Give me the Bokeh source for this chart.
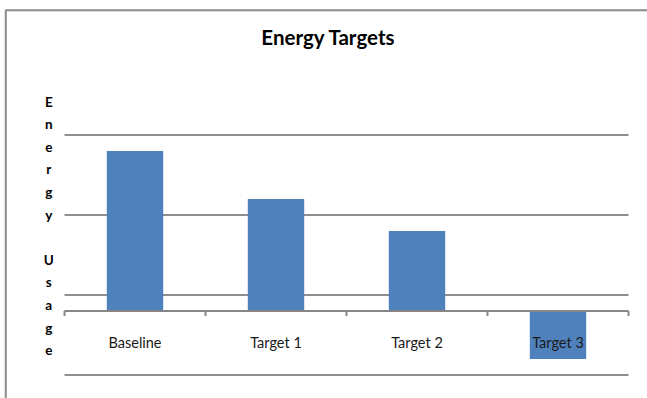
from bokeh.plotting import figure
from bokeh.models import Range1d
from bokeh.core.properties import value
from bokeh.embed import file_html
from bokeh.resources import INLINE

# ---- data ----
categories = ["Baseline", "Target 1", "Target 2", "Target 3"]
energy = [2.0, 1.4, 1.0, -0.6]
grid_values = [-0.8, 0.2, 1.2, 2.2]
chart_title = "Energy Targets"
y_title = "Energy Usage"

# ---- layout (pixels) ----
W, H = 647, 398
PLOT_L, PLOT_R = 64, 628
ZERO_PY = 310.5
PX_PER_UNIT = 80.0
n = len(categories)
PX_PER_CAT = (PLOT_R - PLOT_L) / n

FONT = "Lato"
BAR_COLOR = "#4F81BD"
GRID_COLOR = "#8f8f8f"
AXIS_COLOR = "#868686"


def X(px):
    return (px - PLOT_L) / PX_PER_CAT


def Y(py):
    return (ZERO_PY - py) / PX_PER_UNIT


p = figure(width=W, height=H, x_range=Range1d(X(0), X(W)), y_range=Range1d(Y(H), Y(0)),
           output_backend="svg", toolbar_location=None, min_border=0,
           x_axis_location=None, y_axis_location=None, title=None)
p.grid.visible = False
p.outline_line_color = None
p.background_fill_color = "white"
p.border_fill_color = "white"

# outer chart border (left and top only visible)
p.line(x=[X(5.3), X(5.3), X(W)], y=[Y(H), Y(9.7), Y(9.7)], line_color="#8c8c8c", line_width=2)

# horizontal gridlines across plot area
p.segment(x0=[0] * len(grid_values), x1=[n] * len(grid_values), y0=grid_values, y1=grid_values,
          line_color=GRID_COLOR, line_width=2)

# bars
centers = [i + 0.5 for i in range(n)]
p.vbar(x=centers, top=energy, bottom=0, width=0.4, fill_color=BAR_COLOR, line_color=None)

# category axis line at zero and tick marks between categories
p.segment(x0=[0], x1=[n], y0=[0], y1=[0], line_color=AXIS_COLOR, line_width=2)
ticks = list(range(n + 1))
p.segment(x0=ticks, x1=ticks, y0=[0] * len(ticks), y1=[Y(ZERO_PY + 5)] * len(ticks),
          line_color=AXIS_COLOR, line_width=2)

# category labels
p.text(x=centers, y=[Y(341.5)] * n, text=categories, text_font=value(FONT),
       text_font_size="14.5px", text_align="center", text_baseline="alphabetic", text_color="#1a1a1a")

# title
p.text(x=[X(328)], y=[Y(36.5)], text=[chart_title], text_font=value(FONT), text_font_style="bold",
       text_font_size="20.5px", text_align="center", text_baseline="alphabetic", text_color="black")

# stacked vertical y-axis title (one character per line)
letters = list(y_title)
step = 22.6
p.text(x=[X(48.3)] * len(letters), y=[Y(101 + step * i) for i in range(len(letters))], text=letters,
       text_font=value(FONT), text_font_style="bold", text_font_size="13.5px", text_align="center",
       text_baseline="alphabetic", text_color="black")

open("out.html", "w").write(file_html(p, INLINE, title="Energy Targets"))
